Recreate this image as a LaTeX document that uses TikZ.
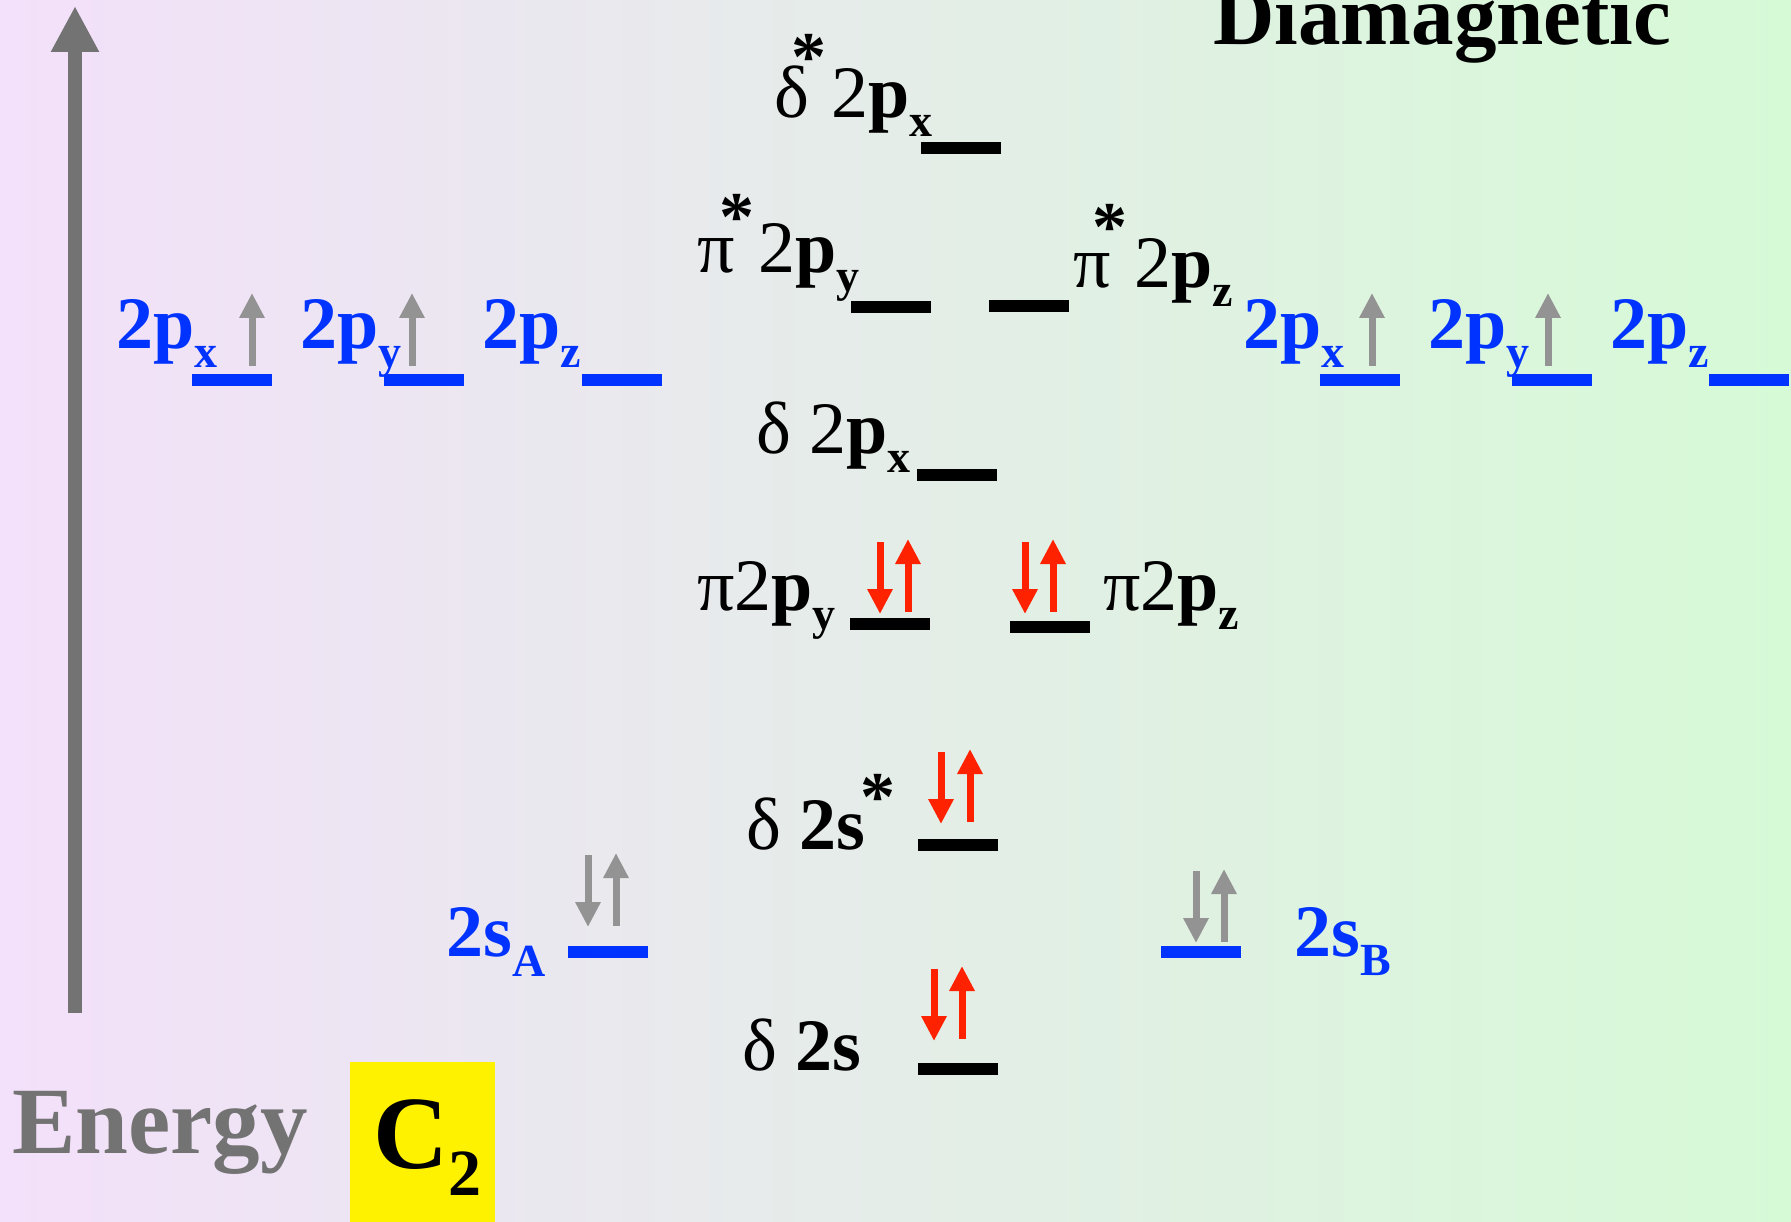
\documentclass[tikz,border=0pt]{standalone}
\usepackage{fontspec}
\setmainfont{Liberation Serif}
\usetikzlibrary{arrows.meta}
\definecolor{eblue}{RGB}{0,51,255}
\definecolor{spinred}{RGB}{255,34,0}
\definecolor{spingray}{RGB}{147,147,147}
\definecolor{axisgray}{RGB}{115,115,115}
\definecolor{bgleft}{RGB}{243,224,250}
\definecolor{bgmid}{RGB}{232,233,240}
\definecolor{bgright}{RGB}{214,250,214}

\newcommand\fsz[1]{\fontsize{#1}{#1}\selectfont}
\newcommand\lo[1]{\raisebox{-19pt}{\fsz{46}\bfseries #1}}
\newcommand\st[3]{\kern#1pt\raisebox{#2pt}{\fsz{70}\bfseries *}\kern#3pt}

\begin{document}
\begin{tikzpicture}[x=1pt,y=-1pt,
    lvl/.style={fill=black,minimum width=80pt,minimum height=12pt,inner sep=0pt,outer sep=0pt},
    blvl/.style={lvl,fill=eblue},
    lbl/.style={anchor=base west,inner sep=0pt,font=\fsz{74}},
    spin/.style={line width=7pt,-{Triangle[length=25pt,width=24pt]}}]
  \shade[left color=bgleft,middle color=bgmid,right color=bgright] (0,0) rectangle (1791,1222);
  \useasboundingbox (0,0) rectangle (1791,1222);

  % energy axis
  \coordinate (ebot) at (75,1013);
  \coordinate (etop) at (75,6);
  \draw[axisgray,line width=14pt,-{Triangle[length=46pt,width=45pt]}] (ebot) -- (etop);
  \node[lbl,font=\fsz{95}\bfseries,text=axisgray] (energy) at (12,1153) {Energy};
  \node[fill=yellow,minimum width=145pt,minimum height=160pt,inner sep=0pt,anchor=north west] (cbox) at (350,1062) {};
  \node[lbl,font=\fsz{104}\bfseries] (ctwo) at (373,1168) {C\raisebox{-27pt}{\fsz{66}2}};
  \node[lbl,font=\fsz{85}\bfseries] (dia) at (1213,45) {Diamagnetic};

  % atomic orbitals
  \foreach \x/\s/\n in {116/x/ax,300/y/ay,482/z/az,1243/x/bx,1428/y/by,1610/z/bz}
    \node[lbl,text=eblue,font=\fsz{74}\bfseries] (l\n) at (\x,349) {2p\lo{\s}};
  \foreach \x/\n in {232/ax,424/ay,621.5/az,1360/bx,1552/by,1749/bz}
    \node[blvl] (\n) at (\x,380) {};
  \node[blvl] (sA) at (608,952) {};
  \node[blvl] (sB) at (1201,952) {};
  \node[lbl,text=eblue,font=\fsz{74}\bfseries] (lsA) at (446,956) {2s\raisebox{-20pt}{\fsz{46}A}};
  \node[lbl,text=eblue,font=\fsz{74}\bfseries] (lsB) at (1294,956) {2s\raisebox{-19pt}{\fsz{46}B}};

  % molecular orbitals
  \node[lvl] (ds2px) at (960.5,148) {};
  \node[lvl] (ps2py) at (890.5,307) {};
  \node[lvl] (ps2pz) at (1028.5,306) {};
  \node[lvl] (d2px) at (957,475) {};
  \node[lvl] (p2py) at (889.5,624) {};
  \node[lvl] (p2pz) at (1049.5,627) {};
  \node[lvl] (ds2s) at (958,845) {};
  \node[lvl] (d2s) at (958,1069) {};

  \node[lbl] (lds2px) at (774,118) {δ\st{-17.5}{37}{4.5}2\textbf{p}\lo{x}};
  \node[lbl] (lps2py) at (697,273) {π\st{-15}{32}{4}2\textbf{p}\lo{y}};
  \node[lbl] (lps2pz) at (1073,288) {π\st{-18}{37}{7}2\textbf{p}\lo{z}};
  \node[lbl] (ld2px) at (756,453) {δ 2\textbf{p}\lo{x}};
  \node[lbl] (lp2py) at (697,610) {π2\textbf{p}\lo{y}};
  \node[lbl] (lp2pz) at (1103,610) {π2\textbf{p}\lo{z}};
  \node[lbl] (lds2s) at (746,849) {δ \textbf{2s}\st{-5}{29}{0}};
  \node[lbl] (ld2s) at (742,1070) {δ \textbf{2s}};

  % electrons
  \foreach \x/\y/\c in {252/366/spingray,412/366/spingray,1372/366/spingray,1548/366/spingray,
      908/612/spinred,1053/612/spinred,970/822/spinred,962/1039/spinred,616/926/spingray,1224/942/spingray}
    \draw[spin,\c] (\x,\y) -- (\x,\y-73);
  \foreach \x/\y/\c in {880/542/spinred,1025/542/spinred,941/752/spinred,934/969/spinred,588/855/spingray,1196/871/spingray}
    \draw[spin,\c] (\x,\y) -- (\x,\y+72);
\end{tikzpicture}
\end{document}
